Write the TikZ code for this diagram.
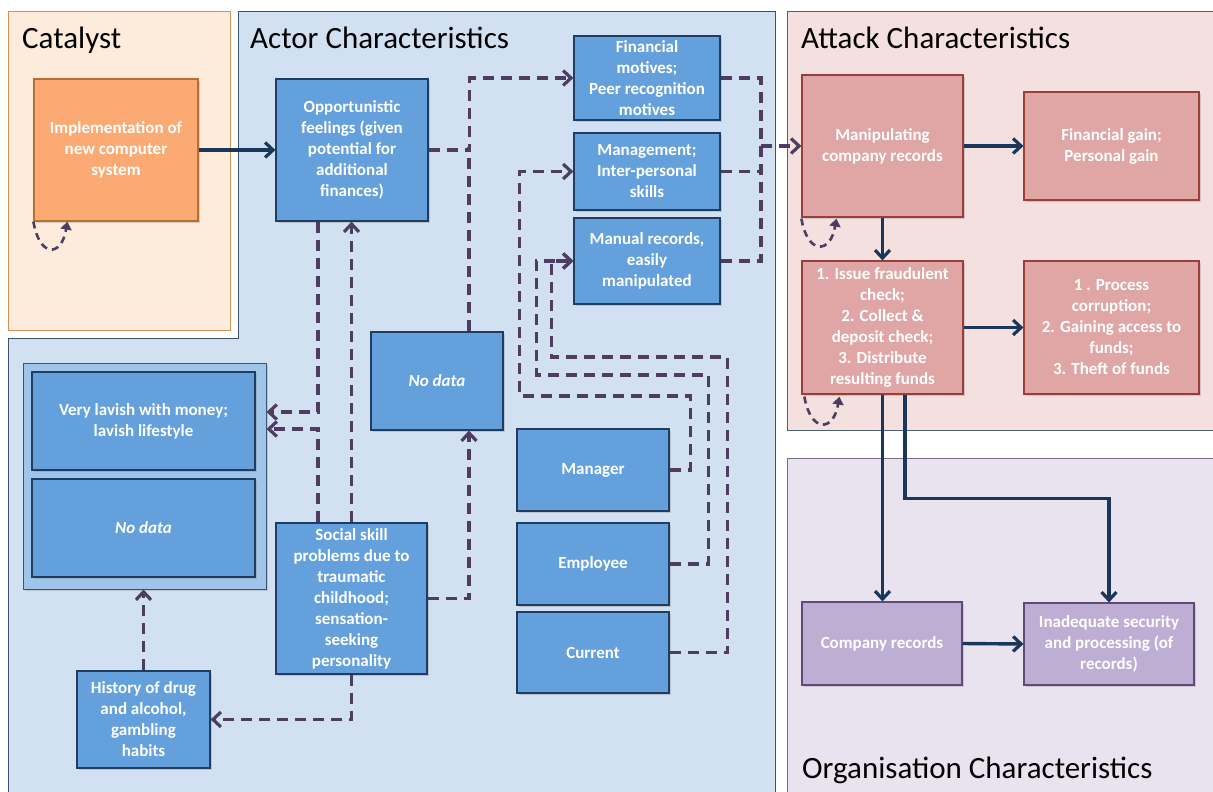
\documentclass[tikz,border=0pt]{standalone}
\usepackage{fontspec}
\setmainfont{Carlito}
\usetikzlibrary{arrows.meta,shadows}

\definecolor{catfill}{HTML}{FDEBDC}
\definecolor{catline}{HTML}{D09255}
\definecolor{actfill}{HTML}{D2E1F1}
\definecolor{actline}{HTML}{3C5470}
\definecolor{grpfill}{HTML}{A0C5EA}
\definecolor{boxblue}{HTML}{64A0DB}
\definecolor{boxblueline}{HTML}{1F3D63}
\definecolor{attfill}{HTML}{F3E0DF}
\definecolor{attline}{HTML}{4E5F78}
\definecolor{redbox}{HTML}{E0A6A5}
\definecolor{redline}{HTML}{9A3E3C}
\definecolor{orgfill}{HTML}{E8E3EE}
\definecolor{orgline}{HTML}{7A6E8C}
\definecolor{purbox}{HTML}{BFAED3}
\definecolor{purline}{HTML}{5E4B7A}
\definecolor{implfill}{HTML}{FBAA74}
\definecolor{implline}{HTML}{B8702E}
\definecolor{dashcol}{HTML}{4E3D62}
\definecolor{arrowcol}{HTML}{1A365A}

\begin{document}
\begin{tikzpicture}[x=1pt, y=-1pt,
    box/.style={draw, line width=1.2pt, text=white, align=center, inner sep=2pt,
        font=\bfseries\fontsize{17}{21}\selectfont,
        drop shadow={shadow xshift=2pt, shadow yshift=-2pt, opacity=0.3}},
    bluebox/.style={box, fill=boxblue, draw=boxblueline},
    redbx/.style={box, fill=redbox, draw=redline},
    purbx/.style={box, fill=purbox, draw=purline},
    implbox/.style={box, fill=implfill, draw=implline},
    paneltitle/.style={anchor=base west, inner sep=0pt, font=\fontsize{31}{37}\selectfont},
    dashline/.style={draw=dashcol, line width=3.4pt, dash pattern=on 11pt off 7pt},
    dasharrow/.style={dashline, -{Straight Barb[length=8pt, width=15pt, line width=3.2pt]}},
    solidarrow/.style={draw=arrowcol, line width=3.4pt, -{Straight Barb[length=8pt, width=15pt, line width=3.2pt]}},
    selfloop/.style={draw=dashcol, line width=2.6pt, dash pattern=on 7pt off 5pt, -{Triangle[length=8pt, width=11pt]}}
]
\useasboundingbox (0,0) rectangle (1213,792);

% panels
\draw[fill=catfill, draw=catline, line width=1pt] (8,12) rectangle (230,330);
\draw[fill=actfill, draw=actline, line width=1pt] (238,12) -- (775,12) -- (775,800) -- (8,800) -- (8,338) -- (238,338) -- cycle;
\draw[fill=attfill, draw=attline, line width=1pt] (787,12) rectangle (1225,430);
\draw[fill=orgfill, draw=orgline, line width=1pt] (787,458) rectangle (1225,800);

\node[paneltitle] (tcat) at (22,49) {Catalyst};
\node[paneltitle] (tact) at (250,49) {Actor Characteristics};
\node[paneltitle] (tatt) at (801,49) {Attack Characteristics};
\node[paneltitle] (torg) at (802,778) {Organisation Characteristics};

% catalyst
\node[implbox, minimum width=164pt, minimum height=142pt] (impl) at (116,150) {Implementation of\\new computer\\system};

% actor characteristics
\node[draw=actline, fill=grpfill, line width=1pt, minimum width=243pt, minimum height=226pt,
    drop shadow={shadow xshift=2pt, shadow yshift=-2pt, opacity=0.3}] (group) at (144.5,476) {};
\node[bluebox, minimum width=223pt, minimum height=98pt] (lavish) at (143.5,421) {Very lavish with money;\\lavish lifestyle};
\node[bluebox, minimum width=223pt, minimum height=98pt] (nodatal) at (143.5,528) {\textit{No data}};

\node[bluebox, minimum width=152pt, minimum height=142pt] (opp) at (352,150) {Opportunistic\\feelings (given\\potential for\\additional\\finances)};
\node[bluebox, minimum width=132pt, minimum height=98pt] (nodatam) at (437,381) {\textit{No data}};
\node[bluebox, minimum width=151pt, minimum height=151pt] (social) at (351.5,598.5) {Social skill\\problems due to\\traumatic\\childhood;\\sensation-\\seeking\\personality};
\node[bluebox, minimum width=133pt, minimum height=97pt] (history) at (143.5,719.5) {History of drug\\and alcohol,\\gambling\\habits};

\node[bluebox, minimum width=146pt, minimum height=84pt] (fin) at (647,78) {Financial\\motives;\\Peer recognition\\motives};
\node[bluebox, minimum width=146pt, minimum height=77pt] (mgmt) at (647,171.5) {Management;\\Inter-personal\\skills};
\node[bluebox, minimum width=146pt, minimum height=86pt] (manual) at (647,261) {Manual records,\\easily\\manipulated};

\node[bluebox, minimum width=152pt, minimum height=82pt] (manager) at (593,470) {Manager};
\node[bluebox, minimum width=152pt, minimum height=82pt] (employee) at (593,564) {Employee};
\node[bluebox, minimum width=152pt, minimum height=81pt] (current) at (593,652.5) {Current};

% attack characteristics
\node[redbx, minimum width=161pt, minimum height=142pt] (manip) at (882.5,146) {Manipulating\\company records};
\node[redbx, minimum width=175pt, minimum height=108pt] (gain) at (1111.5,146) {Financial gain;\\Personal gain};
\node[redbx, minimum width=161pt, minimum height=133pt] (issue) at (882.5,327.5) {1. Issue fraudulent\\check;\\2. Collect \&\\deposit check;\\3. Distribute\\resulting funds};
\node[redbx, minimum width=175pt, minimum height=133pt] (process) at (1111.5,327.5) {1 . Process\\corruption;\\2. Gaining access to\\funds;\\3. Theft of funds};

% organisation characteristics
\node[purbx, minimum width=160pt, minimum height=83pt] (comp) at (882,643.5) {Company records};
\node[purbx, minimum width=170pt, minimum height=82pt] (inadeq) at (1109,644) {Inadequate security\\and processing (of\\records)};

% solid connectors
\draw[solidarrow] (impl.east) -- (opp.west);
\draw[solidarrow] (manip.east) -- (gain.west);
\draw[solidarrow] (manip.south) -- (issue.north);
\draw[solidarrow] (issue.east) -- (process.west);
\draw[solidarrow] (issue.south) -- (issue.south |- comp.north);
\draw[solidarrow] ([xshift=22.5pt]issue.south) -- ++(0,104) -| (inadeq.north);
\draw[solidarrow] (comp.east) -- (inadeq.west);

% dashed connectors
\draw[dasharrow] (opp.east) -- ++(41,0) |- (fin.west);
\draw[dashline] ([xshift=32pt]nodatam.north) -- ++(0,-184);
\coordinate (merge) at (761,146);
\draw[dashline] (fin.east) -| (merge);
\draw[dashline] (manual.east) -| (merge);
\draw[dashline] (mgmt.east) -- (mgmt.east -| merge);
\draw[dasharrow] (merge) -- (manip.west);

\draw[dasharrow] (manager.east) -- ++(21,0) -- ++(0,-74) -| ([xshift=-54pt]mgmt.west) -- (mgmt.west);
\draw[dasharrow] (employee.east) -- ++(39,0) -- ++(0,-189) -| ([xshift=-37pt]manual.west) -- (manual.west);
\draw[dasharrow] (current.east) -- ++(58,0) -- ++(0,-295.5) -| ([xshift=-22pt]manual.west) -- (manual.west);

\draw[dasharrow] ([xshift=-34pt]opp.south) |- ([yshift=64pt]group.east);
\draw[dasharrow] ([xshift=-33.5pt]social.north) |- ([yshift=47pt]group.east);
\draw[dasharrow] (social.north) -- (social.north |- opp.south);
\draw[dasharrow] (social.east) -| ([xshift=32pt]nodatam.south);
\draw[dasharrow] (social.south) |- (history.east);
\draw[dasharrow] (history.north) -- (history.north |- group.south);

% self loops
\draw[selfloop] (impl.south west) .. controls +(6,36) and +(-6,36) .. ([xshift=34pt]impl.south west);
\draw[selfloop] ([yshift=-1pt]manip.south west) .. controls +(6,36) and +(-6,36) .. ([xshift=35pt, yshift=-1pt]manip.south west);
\draw[selfloop] ([xshift=3pt, yshift=-2pt]issue.south west) .. controls +(6,36) and +(-6,36) .. ([xshift=38pt, yshift=-2pt]issue.south west);

\end{tikzpicture}
\end{document}
